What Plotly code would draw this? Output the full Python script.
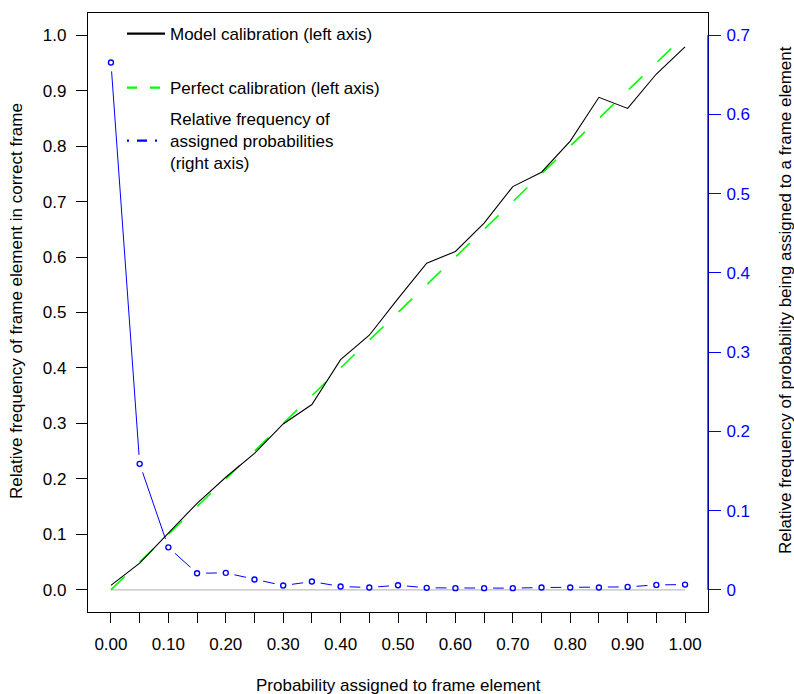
import plotly.graph_objects as go

# ---- data ----
probs = [0.00, 0.05, 0.10, 0.15, 0.20, 0.25, 0.30, 0.35, 0.40, 0.45, 0.50,
         0.55, 0.60, 0.65, 0.70, 0.75, 0.80, 0.85, 0.90, 0.95, 1.00]
model_calibration = [0.008, 0.048, 0.102, 0.156, 0.203, 0.246, 0.299, 0.334, 0.415, 0.459, 0.525,
                     0.589, 0.610, 0.661, 0.727, 0.753, 0.809, 0.888, 0.868, 0.930, 0.979]
perfect_calibration = probs
assigned_freq = [0.6655, 0.159, 0.0536, 0.0209, 0.0214, 0.0130, 0.0054, 0.0104, 0.0042, 0.0029, 0.0058,
                 0.0025, 0.0021, 0.0021, 0.0021, 0.0029, 0.0029, 0.0029, 0.0037, 0.0062, 0.0066]
x_ticktext = ["0.00", "", "0.10", "", "0.20", "", "0.30", "", "0.40", "", "0.50",
              "", "0.60", "", "0.70", "", "0.80", "", "0.90", "", "1.00"]
left_tickvals = [0.0, 0.1, 0.2, 0.3, 0.4, 0.5, 0.6, 0.7, 0.8, 0.9, 1.0]
left_ticktext = ["0.0", "0.1", "0.2", "0.3", "0.4", "0.5", "0.6", "0.7", "0.8", "0.9", "1.0"]
right_tickvals = [0.0, 0.1, 0.2, 0.3, 0.4, 0.5, 0.6, 0.7]
right_ticktext = ["0", "0.1", "0.2", "0.3", "0.4", "0.5", "0.6", "0.7"]
zero_line_x = [0.0, 1.0]
zero_line_y = [0.0, 0.0]

FONT = "Liberation Sans, Arial, Helvetica, sans-serif"
FS = 17
BLUE = "#0000FF"
GREEN = "#00FF00"

fig = go.Figure()

# layer 1 (right scale): blue line + white gap discs
fig.add_trace(go.Scatter(x=probs, y=assigned_freq, mode="lines", yaxis="y",
                         line=dict(color=BLUE, width=1), showlegend=False, hoverinfo="skip"))
fig.add_trace(go.Scatter(x=probs, y=assigned_freq, mode="markers", yaxis="y",
                         marker=dict(color="white", size=18, line=dict(width=0)),
                         showlegend=False, hoverinfo="skip"))

# layer 2 (left scale): zero line, perfect calibration, model calibration
fig.add_trace(go.Scatter(x=zero_line_x, y=zero_line_y, mode="lines", yaxis="y2",
                         line=dict(color="#BEBEBE", width=1.2), showlegend=False, hoverinfo="skip"))
fig.add_trace(go.Scatter(x=probs, y=perfect_calibration, mode="lines", yaxis="y2",
                         line=dict(color=GREEN, width=1.6, dash="19px,21px"), showlegend=False))
fig.add_trace(go.Scatter(x=probs, y=model_calibration, mode="lines", yaxis="y2",
                         line=dict(color="black", width=1.1), showlegend=False))

# layer 3 (right scale): blue open circles
fig.add_trace(go.Scatter(x=probs, y=assigned_freq, mode="markers", yaxis="y3",
                         marker=dict(symbol="circle-open", color=BLUE, size=5, line=dict(width=1.4, color=BLUE)),
                         showlegend=False))

# legend entries
fig.add_trace(go.Scatter(x=[None], y=[None], mode="lines", name="Model calibration (left axis)",
                         line=dict(color="black", width=2.2), legend="legend"))
fig.add_trace(go.Scatter(x=[None], y=[None], mode="lines", name="Perfect calibration (left axis)",
                         line=dict(color=GREEN, width=2.2, dash="10px,13px"), legend="legend2"))
fig.add_trace(go.Scatter(x=[None], y=[None], mode="lines",
                         name="Relative frequency of<br>assigned probabilities<br>(right axis)",
                         line=dict(color=BLUE, width=2.2, dash="2px,8px,10px,8px"), legend="legend3"))

L, R, T, B = 88, 86, 13, 82
W, H = 794, 694
PW, PH = W - L - R, H - T - B


def px(x):
    return (x - L) / PW


def py(y):
    return (H - B - y) / PH


leg_common = dict(xanchor="left", yanchor="middle", bgcolor="rgba(0,0,0,0)",
                  font=dict(family=FONT, size=FS, color="black"), borderwidth=0, itemwidth=38)

fig.update_layout(
    width=W, height=H,
    margin=dict(l=L, r=R, t=T, b=B),
    paper_bgcolor="white", plot_bgcolor="white",
    font=dict(family=FONT, size=FS, color="black"),
    xaxis=dict(range=[-0.04, 1.04], tickvals=probs, ticktext=x_ticktext,
               ticks="outside", ticklen=10, tickwidth=1, tickcolor="black", ticklabelstandoff=6,
               showline=True, linecolor="black", linewidth=1.2, mirror=True,
               showgrid=False, zeroline=False, tickfont=dict(size=FS)),
    yaxis=dict(range=[-0.028, 0.728], side="right", tickvals=right_tickvals, ticktext=right_ticktext,
               ticks="outside", ticklen=12, tickwidth=1, tickcolor=BLUE, ticklabelstandoff=2,
               tickfont=dict(color=BLUE, size=FS), showline=False,
               showgrid=False, zeroline=False),
    yaxis2=dict(range=[-0.04, 1.04], side="left", overlaying="y", tickvals=left_tickvals,
                ticktext=left_ticktext, ticks="outside", ticklen=11, tickwidth=1, tickcolor="black",
                ticklabelstandoff=6,
                showline=True, linecolor="black", linewidth=1.2, mirror=True,
                showgrid=False, zeroline=False, tickfont=dict(size=FS)),
    yaxis3=dict(range=[-0.028, 0.728], overlaying="y", visible=False),
    legend=dict(x=px(122), y=py(34), **leg_common),
    legend2=dict(x=px(122), y=py(88), **leg_common),
    legend3=dict(x=px(122), y=py(141), **leg_common),
    showlegend=True,
)

# blue right axis line segment (0 to 0.7)
fig.add_shape(type="line", xref="paper", x0=1, x1=1, yref="y", y0=right_tickvals[0], y1=right_tickvals[-1],
              line=dict(color=BLUE, width=1.3), layer="above")

# axis titles
fig.add_annotation(text="Probability assigned to frame element", xref="paper", yref="paper",
                   x=0.5, y=py(685), xanchor="center", yanchor="middle", showarrow=False,
                   font=dict(size=FS, color="black"))
fig.add_annotation(text="Relative frequency of frame element in correct frame", xref="paper", yref="paper",
                   x=px(16), y=py(301), xanchor="center", yanchor="middle", textangle=-90, showarrow=False,
                   font=dict(size=FS, color="black"))
fig.add_annotation(text="Relative frequency of probability being assigned to a frame element", xref="paper",
                   yref="paper", x=px(785), y=py(300), xanchor="center", yanchor="middle", textangle=-90,
                   showarrow=False, font=dict(size=FS, color="black"))

fig.write_html("out.html", config={"displayModeBar": False},
               post_script="document.body.style.margin='0';document.body.style.padding='0';")
